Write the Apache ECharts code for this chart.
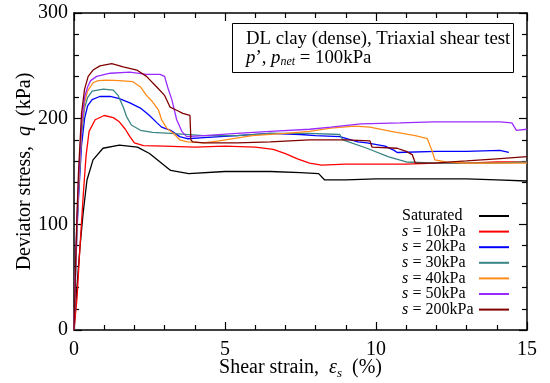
<!DOCTYPE html>
<html>
<head>
<meta charset="utf-8">
<script src="https://cdn.jsdelivr.net/npm/echarts@6/dist/echarts.min.js"></script>
<style>
  html, body { margin: 0; padding: 0; background: #fff; }
  #chart { width: 550px; height: 383px; }
</style>
</head>
<body>
<div id="chart"></div>
<script>
// [shear strain (%), deviator stress q (kPa)]
const saturated = [[0,0],[0.03,12],[0.09,38],[0.2,79],[0.3,110],[0.43,142],[0.63,161],[0.96,172],[1.5,175],[2.1,173],[2.5,167],[2.85,159],[3.2,151],[3.8,148],[5,150],[6.5,150],[7.5,149],[8.1,148],[8.3,142],[9,142],[10,143],[11,143],[12,143],[13,143],[14,142],[15,141]]
const s10 = [[0,0],[0.1,30],[0.2,80],[0.3,125],[0.4,165],[0.5,188],[0.7,199],[1.0,203],[1.3,201],[1.5,197],[1.7,190],[1.85,183],[2.0,177],[2.3,174.5],[3,174],[4,173],[5,174],[6,173],[6.6,171],[7.0,167],[7.4,162],[7.8,158],[8.2,156],[9,157],[10,157],[11,157],[12,158],[13,158],[14,159],[15,159]]
const s20 = [[0,0],[0.05,50],[0.1,95],[0.15,125],[0.25,175],[0.35,200],[0.45,212],[0.6,218],[0.85,221],[1.2,221],[1.5,219],[1.85,215],[2.2,210],[2.5,203],[2.75,196],[2.9,192],[3.2,189],[3.5,183],[3.75,181],[4.3,182],[5.4,184],[6.5,186],[7.5,185],[8.0,184],[8.8,183],[9.4,178],[9.7,177],[10.3,174],[10.6,170],[10.7,168],[12,169],[13,169],[14.1,170],[14.4,168]]
const s30 = [[0,0],[0.05,55],[0.1,100],[0.15,130],[0.25,185],[0.35,210],[0.45,220],[0.6,226],[0.97,228],[1.3,227],[1.46,222],[1.63,211],[1.74,202],[1.9,194],[2.2,189],[2.6,187],[3.2,186],[4.3,184],[5.4,184],[6.5,186],[7.8,186],[8.8,185],[8.9,180],[9.7,172],[10.4,164],[11,159],[12,158],[13,158],[14,158],[15,159]]
const s40 = [[0,0],[0.05,55],[0.1,100],[0.15,135],[0.25,190],[0.35,215],[0.45,226],[0.63,234],[0.8,236],[1.1,236.5],[1.5,236],[1.95,235],[2.2,230],[2.4,222],[2.6,216],[2.8,208],[2.9,199],[3.07,191],[3.3,186],[3.5,180],[3.75,178],[4.3,177],[4.8,179],[5.9,184],[7.0,186],[7.8,188],[8.5,191],[9.3,193],[9.8,192],[10.5,188],[11.3,184],[11.7,181],[11.85,170],[11.95,161],[12.3,159],[13,158],[14,158],[15,158]]
const s50 = [[0,0],[0.05,60],[0.1,105],[0.15,140],[0.25,195],[0.35,220],[0.45,230],[0.55,236],[0.75,240],[1.2,243],[1.85,244],[2.4,242],[2.85,242],[3.0,240],[3.1,230],[3.24,218],[3.4,199],[3.57,188],[3.73,183],[4.3,184],[5.4,186],[6.5,188],[7.8,190],[8.5,192],[9.5,195],[10.8,196],[11.9,197],[13,197],[14.1,197],[14.5,196],[14.65,189],[15,190]]
const s200 = [[0,0],[0.05,60],[0.1,110],[0.15,150],[0.25,205],[0.35,228],[0.47,240],[0.63,246],[0.86,250],[1.25,252],[1.63,249],[2.08,246],[2.4,240],[2.74,230],[3.0,222],[3.18,211],[3.4,208],[3.6,205],[3.84,203],[3.87,180],[3.93,178],[4.3,177],[5.4,177],[6.5,178],[7.8,180],[9.0,180],[9.8,179],[9.87,173],[10.7,172],[11.0,169],[11.2,166],[11.3,158],[11.9,158],[13,160],[14,162],[15,164]]

const seriesNames = ['Saturated', 's = 10kPa', 's = 20kPa', 's = 30kPa', 's = 40kPa', 's = 50kPa', 's = 200kPa']
const seriesData = [saturated, s10, s20, s30, s40, s50, s200]
const seriesColors = ['#000000', '#ff0000', '#0000ff', '#3a8585', '#ff8c1a', '#9a2bff', '#800000']

const serif = '"Liberation Serif", "DejaVu Serif", serif'

const chart = echarts.init(document.getElementById('chart'), null, { renderer: 'canvas' })

function axisBase(extra) {
  return Object.assign({
    axisLine: { show: true, onZero: false, lineStyle: { color: '#000', width: 1.5 } },
    axisTick: { show: true, inside: true, length: 8, lineStyle: { color: '#000', width: 1.2 } },
    minorTick: { show: true, splitNumber: 5, length: 5, lineStyle: { color: '#000', width: 1.2 } },
    splitLine: { show: false },
    axisLabel: { color: '#000', fontFamily: serif, fontSize: 20 }
  }, extra)
}

const legendRich = {
  t: { fontFamily: serif, fontSize: 16, color: '#000', lineHeight: 14.5, width: 72, align: 'left' },
  i: { fontFamily: serif, fontSize: 16, fontStyle: 'italic', color: '#000', lineHeight: 14.5, width: 6.5, align: 'left' },
  r: { fontFamily: serif, fontSize: 16, color: '#000', lineHeight: 14.5, width: 65.5, align: 'left' }
}

const option = {
  animation: false,
  backgroundColor: '#fff',
  grid: { left: 74, right: 23, top: 13, bottom: 53, outerBoundsMode: 'none' },
  title: {
    text: 'DL clay (dense), Triaxial shear test\n{i|p}’, {i|p}{s|net} = 100kPa',
    left: 232,
    top: 23,
    borderColor: '#000',
    borderWidth: 1,
    padding: [7, 4, 5, 14],
    textStyle: {
      fontFamily: serif,
      fontSize: 18.8,
      fontWeight: 'normal',
      color: '#000',
      lineHeight: 19,
      rich: {
        i: { fontFamily: serif, fontSize: 18.8, fontStyle: 'italic', color: '#000', lineHeight: 19 },
        s: { fontFamily: serif, fontSize: 12, fontStyle: 'italic', color: '#000', lineHeight: 12, verticalAlign: 'bottom' }
      }
    }
  },
  legend: {
    orient: 'vertical',
    right: 41,
    top: 208,
    padding: 0,
    align: 'right',
    icon: 'rect',
    itemWidth: 30,
    itemHeight: 2,
    itemGap: -0.4,
    data: seriesNames,
    formatter: function (name) {
      return name.indexOf('s = ') === 0 ? '{i|s}{r|' + name.slice(1) + '}' : '{t|' + name + '}'
    },
    textStyle: {
      fontFamily: serif,
      fontSize: 16,
      color: '#000',
      lineHeight: 14.5,
      rich: legendRich
    }
  },
  xAxis: [
    axisBase({
      type: 'value', min: 0, max: 15, interval: 5, position: 'bottom',
      name: 'Shear strain,  {e|ε}{sub|s}  (%)',
      nameLocation: 'middle',
      nameGap: 26,
      nameMoveOverlap: false,
      nameTextStyle: {
        fontFamily: serif, fontSize: 20, color: '#000', lineHeight: 24, verticalAlign: 'top',
        rich: {
          e: { fontFamily: serif, fontSize: 20, fontStyle: 'italic', color: '#000', lineHeight: 24 },
          sub: { fontFamily: serif, fontSize: 13, fontStyle: 'italic', color: '#000', lineHeight: 14, verticalAlign: 'bottom' }
        }
      },
      axisLabel: { color: '#000', fontFamily: serif, fontSize: 20, margin: 10 }
    }),
    axisBase({
      type: 'value', min: 0, max: 15, interval: 5, position: 'top',
      axisLabel: { show: false }
    })
  ],
  yAxis: [
    axisBase({
      type: 'value', min: 0, max: 300, interval: 100, position: 'left',
      name: 'Deviator stress,  {q|q}  (kPa)',
      nameLocation: 'middle',
      nameGap: 39,
      nameMoveOverlap: false,
      nameRotate: 90,
      nameTextStyle: {
        fontFamily: serif, fontSize: 20, color: '#000',
        rich: { q: { fontFamily: serif, fontSize: 20, fontStyle: 'italic', color: '#000' } }
      },
      axisLabel: { color: '#000', fontFamily: serif, fontSize: 20, margin: 6 }
    }),
    axisBase({
      type: 'value', min: 0, max: 300, interval: 100, position: 'right',
      axisLabel: { show: false }
    })
  ],
  series: seriesNames.map(function (name, i) {
    return {
      name: name,
      type: 'line',
      xAxisIndex: 0,
      yAxisIndex: 0,
      data: seriesData[i],
      symbol: 'none',
      color: seriesColors[i],
      lineStyle: { width: 1.3, color: seriesColors[i] },
      z: 2 + i
    }
  })
}

chart.setOption(option)
</script>
</body>
</html>
